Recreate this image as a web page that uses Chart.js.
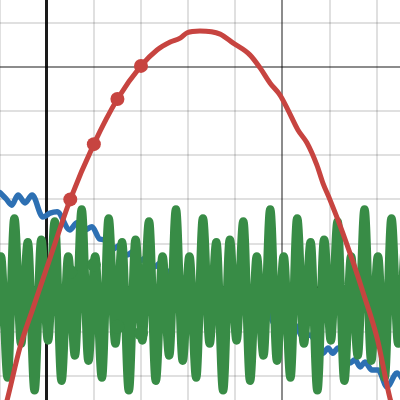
<!DOCTYPE html>
<html>
<head>
<meta charset="utf-8">
<script src="https://cdn.jsdelivr.net/npm/chart.js@4/dist/chart.umd.min.js"></script>
<style>
html,body{margin:0;padding:0;background:#ffffff;overflow:hidden;}
#wrap{width:400px;height:400px;position:relative;}
</style>
</head>
<body>
<div id="wrap"><canvas id="c" width="400" height="400"></canvas></div>
<script>
// grid ticks
const xTicks = [-1, 0, 1, 2, 3, 4, 5, 6, 7];
const yTicks = [-2, -1, 0, 1, 2, 3, 4, 5, 6];

// red curve
const redX = [-0.93, -0.84, -0.57, -0.29, 0.07, 0.5, 1.0, 1.5, 2.0, 2.34, 2.62, 2.83, 2.98, 3.25, 3.68, 3.95, 4.31, 4.53, 4.74, 4.95, 5.12, 5.33, 5.52, 5.73, 5.86, 6.01, 6.22, 6.50, 6.71, 7.01, 7.28, 7.39];
const redY = [-2.88, -2.54, -1.36, -0.46, 0.67, 2.0, 3.25, 4.27, 5.02, 5.38, 5.56, 5.65, 5.77, 5.81, 5.74, 5.54, 5.27, 4.97, 4.63, 4.36, 4.02, 3.57, 3.28, 2.78, 2.37, 1.99, 1.42, 0.58, -0.10, -1.14, -2.49, -2.88];
const redPointX = [0.5, 1.0, 1.5, 2.0];
const redPointY = [2.0, 3.25, 4.27, 5.02];

// blue curve
const blueX = [-0.99, -0.86, -0.74, -0.61, -0.46, -0.31, -0.08, 0.07, 0.22, 0.49, 0.64, 0.81, 0.96, 1.13, 1.28, 1.41, 1.56, 1.70, 1.85, 1.98, 2.13, 2.28, 2.43, 2.55, 2.70, 2.85, 3.00, 3.13, 3.27, 3.42, 3.57, 3.70, 3.85, 4.00, 4.14, 4.27, 4.42, 4.57, 4.72, 4.84, 4.99, 5.14, 5.29, 5.42, 5.59, 5.73, 5.86, 5.97, 6.07, 6.18, 6.43, 6.54, 6.65, 6.75, 6.90, 7.03, 7.22, 7.43, 7.60];
const blueY = [2.15, 2.01, 1.87, 2.10, 1.92, 2.10, 1.60, 1.69, 1.72, 1.31, 1.47, 1.31, 1.38, 1.10, 1.08, 0.88, 0.97, 0.74, 0.83, 0.61, 0.70, 0.47, 0.58, 0.34, 0.45, 0.18, 0.27, -0.03, 0.09, -0.19, -0.10, -0.34, -0.23, -0.48, -0.37, -0.59, -0.50, -0.71, -0.62, -0.84, -0.73, -0.98, -0.86, -1.11, -1.07, -1.29, -1.48, -1.36, -1.48, -1.36, -1.70, -1.63, -1.79, -1.68, -1.86, -1.86, -2.24, -1.93, -2.15];

// green curve (turning points)
const greenX = [-1.115, -0.972, -0.829, -0.686, -0.543, -0.401, -0.258, -0.115, 0.028, 0.171, 0.314, 0.457, 0.599, 0.742, 0.885, 1.028, 1.171, 1.314, 1.457, 1.599, 1.742, 1.885, 2.028, 2.171, 2.314, 2.457, 2.599, 2.742, 2.885, 3.028, 3.171, 3.314, 3.457, 3.599, 3.742, 3.885, 4.028, 4.171, 4.314, 4.457, 4.599, 4.742, 4.885, 5.028, 5.171, 5.314, 5.457, 5.599, 5.742, 5.885, 6.028, 6.171, 6.314, 6.457, 6.599, 6.742, 6.885, 7.028, 7.171, 7.314, 7.457, 7.599];
const greenY = [-1.65,
  0.71, -2.03, 1.57, -1.26, 1.03, -2.32, 1.09, -1.19, 1.50, -2.10, 0.71, -1.53, 1.77, -1.65,
  0.71, -2.03, 1.57, -1.26, 1.03, -2.32, 1.09, -1.19, 1.50, -2.10, 0.71, -1.53, 1.77, -1.65,
  0.71, -2.03, 1.57, -1.26, 1.03, -2.32, 1.09, -1.19, 1.50, -2.10, 0.71, -1.53, 1.77, -1.65,
  0.71, -2.03, 1.57, -1.26, 1.03, -2.32, 1.09, -1.19, 1.50, -2.10, 0.71, -1.53, 1.77, -1.65,
  0.71, -2.03, 1.57, -1.26, 1.03];
const greenPointX = [0.5, 1.0, 1.5, 2.0];
const greenPointY = [0.36, 0.52, -0.88, -1.03];

const RED = '#c74440', BLUE = '#2d70b3', GREEN = '#388c46';

function pts(xs, ys) { return xs.map((x, i) => ({ x: x, y: ys[i] })); }

function gridColor(ctx) {
  const v = ctx.tick ? ctx.tick.value : 1;
  if (v === 0) return '#1a1a1a';
  if (v % 5 === 0) return 'rgba(0,0,0,0.45)';
  return 'rgba(0,0,0,0.12)';
}
function gridWidth(ctx) {
  const v = ctx.tick ? ctx.tick.value : 1;
  return v === 0 ? 3 : 2;
}

new Chart(document.getElementById('c'), {
  type: 'scatter',
  data: {
    datasets: [
      { data: pts(redPointX, redPointY), showLine: false, pointRadius: 7, pointBackgroundColor: RED, pointBorderWidth: 0 },
      { data: pts(redX, redY), showLine: true, borderColor: RED, borderWidth: 5, pointRadius: 0, cubicInterpolationMode: 'monotone', borderCapStyle: 'round', borderJoinStyle: 'round' },
      { data: pts(greenPointX, greenPointY), showLine: false, pointRadius: 7, pointBackgroundColor: GREEN, pointBorderWidth: 0 },
      { data: pts(greenX, greenY), showLine: true, borderColor: GREEN, borderWidth: 8.5, pointRadius: 0, cubicInterpolationMode: 'monotone', borderCapStyle: 'round', borderJoinStyle: 'round' },
      { data: pts(blueX, blueY), showLine: true, borderColor: BLUE, borderWidth: 5.5, pointRadius: 0, cubicInterpolationMode: 'monotone', borderCapStyle: 'round', borderJoinStyle: 'round' }
    ]
  },
  options: {
    responsive: false,
    animation: false,
    devicePixelRatio: 1,
    layout: { padding: 0, autoPadding: false },
    plugins: { legend: { display: false }, tooltip: { enabled: false } },
    scales: {
      x: {
        type: 'linear', min: -0.991, max: 7.495,
        afterBuildTicks: s => { s.ticks = xTicks.map(v => ({ value: v })); },
        ticks: { display: false },
        grid: { color: gridColor, lineWidth: gridWidth, drawTicks: false },
        border: { display: false }
      },
      y: {
        type: 'linear', min: -2.538, max: 6.511,
        afterBuildTicks: s => { s.ticks = yTicks.map(v => ({ value: v })); },
        ticks: { display: false },
        grid: { color: gridColor, lineWidth: gridWidth, drawTicks: false },
        border: { display: false }
      }
    }
  }
});
</script>
</body>
</html>
